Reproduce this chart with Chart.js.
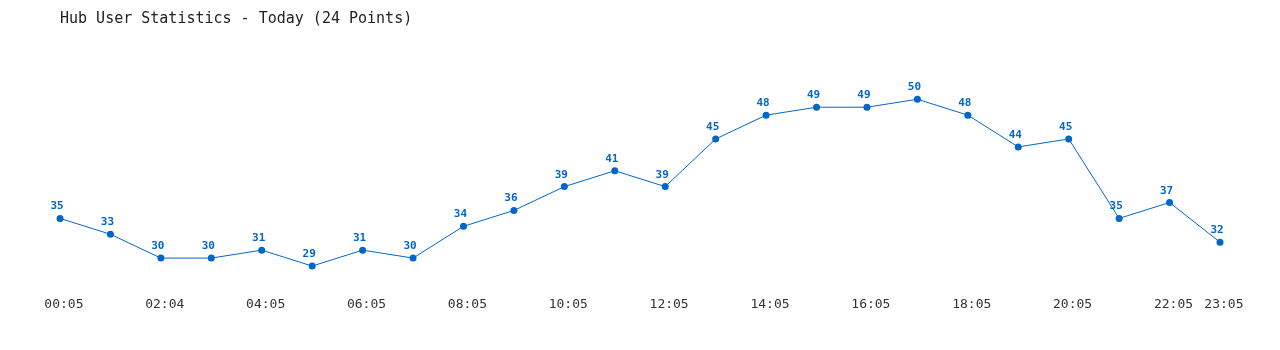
<!DOCTYPE html>
<html>
<head>
<meta charset="utf-8">
<title>Hub User Statistics</title>
<script src="https://cdn.jsdelivr.net/npm/chart.js@4/dist/chart.umd.min.js"></script>
<style>
    html, body { margin: 0; padding: 0; background: #fff; }
    #wrap { width: 1280px; height: 350px; }
</style>
</head>
<body>
<div id="wrap"><canvas id="hubChart" width="1280" height="350"></canvas></div>
<script>
/* ========================================
   Data
   ======================================== */

const times = [
    '00:05', '01:05', '02:04', '03:05', '04:05', '05:05', '06:05', '07:05',
    '08:05', '09:05', '10:05', '11:05', '12:05', '13:05', '14:05', '15:05',
    '16:05', '17:05', '18:05', '19:05', '20:05', '21:05', '22:05', '23:05'
];

const users = [
    35, 33, 30, 30, 31, 29, 31, 30,
    34, 36, 39, 41, 39, 45, 48, 49,
    49, 50, 48, 44, 45, 35, 37, 32
];

// tick labels shown under the axis
const shownTicks = [
    '00:05', '02:04', '04:05', '06:05', '08:05', '10:05', '12:05',
    '14:05', '16:05', '18:05', '20:05', '22:05', '23:05'
];

const BLUE = '#0066cc';
const MONO = '"DejaVu Sans Mono", "Liberation Mono", monospace';

/* ========================================
   Value labels above points
   ======================================== */

const pointLabels = {
    id: 'pointLabels',
    afterDatasetsDraw(chart) {
        const ctx = chart.ctx;
        const meta = chart.getDatasetMeta(0);
        ctx.save();
        ctx.font = 'bold 11px ' + MONO;
        ctx.fillStyle = BLUE;
        ctx.textAlign = 'center';
        ctx.textBaseline = 'alphabetic';
        meta.data.forEach(function (pt, i) {
            ctx.fillText(String(users[i]), pt.x - 3, pt.y - 9);
        });
        ctx.restore();
    }
};

/* ========================================
   Chart
   ======================================== */

new Chart(document.getElementById('hubChart').getContext('2d'), {
    type: 'line',
    data: {
        labels: times,
        datasets: [{
            data: users,
            borderColor: BLUE,
            backgroundColor: BLUE,
            borderWidth: 1,
            pointRadius: 3.5,
            pointBackgroundColor: BLUE,
            pointBorderWidth: 0,
            tension: 0,
            fill: false
        }]
    },
    options: {
        responsive: false,
        animation: false,
        layout: {
            padding: { left: 60, right: 60, top: 0, bottom: 34 }
        },
        plugins: {
            legend: { display: false },
            tooltip: { enabled: false },
            title: {
                display: true,
                text: 'Hub User Statistics - Today (24 Points)',
                align: 'start',
                color: '#222',
                font: { family: MONO, size: 15, weight: 'normal' },
                padding: { top: 10, bottom: 31 }
            }
        },
        scales: {
            x: {
                offset: false,
                grid: { display: false, drawTicks: false },
                border: { display: false },
                ticks: {
                    autoSkip: false,
                    maxRotation: 0,
                    padding: 4,
                    color: '#333',
                    font: { family: MONO, size: 13 },
                    callback: function (value, index) {
                        const t = times[index];
                        return shownTicks.includes(t) ? ' ' + t : '';
                    }
                }
            },
            y: {
                display: false,
                min: 25.68,
                max: 55.07
            }
        }
    },
    plugins: [pointLabels]
});
</script>
</body>
</html>
